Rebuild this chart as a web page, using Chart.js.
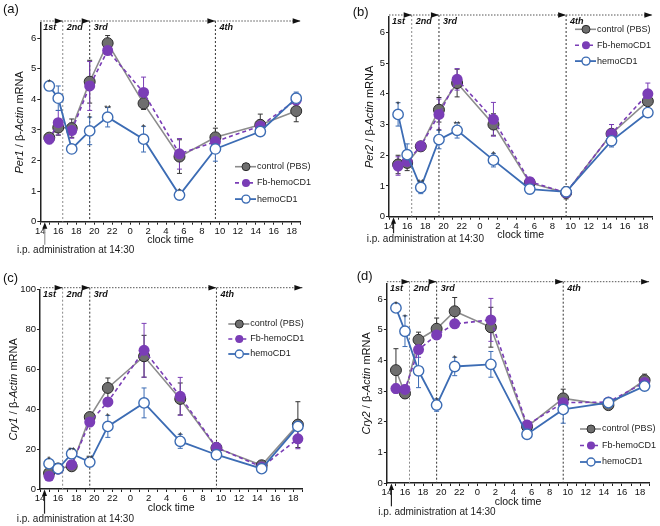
<!DOCTYPE html>
<html><head><meta charset="utf-8">
<script src="https://cdn.jsdelivr.net/npm/chart.js@4.4.0/dist/chart.umd.min.js"></script>
<style>
html,body{margin:0;padding:0;background:#fff;}
body{width:660px;height:526px;position:relative;overflow:hidden;}
.p{position:absolute;width:330px;height:263px;}
canvas{display:block;}
</style></head>
<body>
<div class="p" style="left:0;top:0"><canvas id="pa" width="330" height="263"></canvas></div>
<div class="p" style="left:330px;top:0"><canvas id="pb" width="330" height="263"></canvas></div>
<div class="p" style="left:0;top:263px"><canvas id="pc" width="330" height="263"></canvas></div>
<div class="p" style="left:330px;top:263px"><canvas id="pd" width="330" height="263"></canvas></div>
<script>
// ---------- DATA ----------
// sampling times, hours after 14:00 on day 1 (15:00,16:00,17:30,19:30,21:30,1:30,5:30,9:30,14:30,18:30)
const sampleHours = [1, 2, 3.5, 5.5, 7.5, 11.5, 15.5, 19.5, 24.5, 28.5];
const seriesNames = ['control (PBS)', 'Fb-hemoCD1', 'hemoCD1'];
const phaseLabels = ['1st', '2nd', '3rd', '4th'];
const phaseBoundaryHours = [2.5, 5.5, 19.5];
const injectionHour = 0.5;

// (a) Per1
const per1Control    = [2.75, 3.08, 3.06, 4.58, 5.84, 3.87, 2.13, 2.76, 3.17, 3.62];
const per1ControlErr = [0.10, 0.25, 0.30, 0.70, 0.25, 0.20, 0.55, 0.30, 0.35, 0.35];
const per1Fb         = [2.70, 3.24, 2.98, 4.44, 5.60, 4.23, 2.22, 2.62, 3.13, 3.98];
const per1FbErr      = [0.15, 0.40, 0.25, 0.80, 0.10, 0.50, 0.50, 0.25, 0.20, 0.20];
const per1Hemo       = [4.44, 4.04, 2.38, 2.97, 3.42, 2.70, 0.87, 2.38, 2.95, 4.04];
const per1HemoErr    = [0.10, 0.40, 0.05, 0.45, 0.32, 0.42, 0.05, 0.40, 0.05, 0.20];
const per1Sig        = ['*', '', '', '*', '**', '*', '*', '', '', ''];

// (b) Per2
const per2Control    = [1.70, 1.75, 2.29, 3.48, 4.35, 3.00, 1.10, 0.78, 2.70, 3.76];
const per2ControlErr = [0.30, 0.25, 0.10, 0.40, 0.45, 0.35, 0.10, 0.20, 0.30, 0.10];
const per2Fb         = [1.65, 1.80, 2.30, 3.33, 4.47, 3.17, 1.14, 0.78, 2.70, 4.00];
const per2FbErr      = [0.30, 0.20, 0.10, 0.50, 0.35, 0.55, 0.10, 0.10, 0.30, 0.35];
const per2Hemo       = [3.33, 2.02, 0.95, 2.51, 2.81, 1.84, 0.90, 0.81, 2.47, 3.39];
const per2HemoErr    = [0.38, 0.35, 0.20, 0.30, 0.25, 0.22, 0.15, 0.10, 0.20, 0.10];
const per2Sig        = ['*', '', '**', '*', '**', '*', '', '', '', ''];

// (c) Cry1
const cry1Control    = [8.0, 10.3, 11.4, 36.1, 50.7, 66.6, 45.2, 20.6, 11.9, 32.3];
const cry1ControlErr = [1.5, 1.0, 1.5, 2.0, 5.0, 10.5, 8.0, 2.5, 1.0, 11.5];
const cry1Fb         = [6.4, 10.0, 12.2, 33.6, 43.7, 69.6, 46.5, 20.9, 11.0, 25.2];
const cry1FbErr      = [2.0, 1.0, 2.0, 2.0, 2.0, 13.5, 9.5, 1.5, 1.0, 5.0];
const cry1Hemo       = [12.7, 10.2, 17.7, 13.5, 31.4, 43.2, 23.9, 17.2, 10.2, 31.4];
const cry1HemoErr    = [2.0, 1.5, 1.5, 1.5, 5.5, 7.5, 3.5, 1.5, 1.0, 2.0];
const cry1Sig        = ['*', '', '**', '**', '*', '', '*', '', '', ''];

// (d) Cry2
const cry2Control    = [3.68, 2.92, 4.67, 5.03, 5.60, 5.08, 1.84, 2.76, 2.54, 3.35];
const cry2ControlErr = [0.70, 0.15, 0.25, 0.35, 0.45, 0.65, 0.15, 0.30, 0.10, 0.20];
const cry2Fb         = [3.08, 3.05, 4.35, 4.83, 5.19, 5.32, 1.89, 2.62, 2.64, 3.28];
const cry2FbErr      = [0.15, 0.15, 0.25, 0.15, 0.10, 0.70, 0.15, 0.10, 0.10, 0.10];
const cry2Hemo       = [5.71, 4.95, 3.66, 2.54, 3.80, 3.87, 1.59, 2.40, 2.62, 3.16];
const cry2HemoErr    = [0.10, 0.50, 0.55, 0.20, 0.30, 0.42, 0.05, 0.45, 0.10, 0.10];
const cry2Sig        = ['*', '*', '', '*', '*', '', '', '', '', ''];

// ---------- STYLE ----------
const FONT = '"Liberation Sans", Arial, Helvetica, sans-serif';
const STY = [
  {line:'#8c8c8c', fill:'#6e6e6e', edge:'#2a2a2a', err:'#333333', dash:[], bw:1.6, r:5.5, pbw:1},
  {line:'#7a3db6', fill:'#7a3db6', edge:'#7a3db6', err:'#7a3db6', dash:[4,3], bw:1.6, r:5.5, pbw:0},
  {line:'#3c6cb4', fill:'#ffffff', edge:'#3c6cb4', err:'#3c6cb4', dash:[], bw:1.8, r:5.2, pbw:1.4}
];

const deco = {
  id: 'deco',
  beforeDatasetsDraw(chart, args, o) {
    const ctx = chart.ctx, xs = chart.scales.x, ys = chart.scales.y, ca = chart.chartArea;
    ctx.save();
    const topY = ca.top - 2;
    phaseBoundaryHours.forEach((h, i) => {
      const x = xs.getPixelForValue(h);
      ctx.strokeStyle = i === 0 ? '#8a8a8a' : '#333';
      ctx.lineWidth = 1; ctx.setLineDash([2, 2]);
      ctx.beginPath(); ctx.moveTo(x, topY); ctx.lineTo(x, ca.bottom); ctx.stroke();
    });
    ctx.setLineDash([]);
    chart.data.datasets.forEach((d, di) => {
      const meta = chart.getDatasetMeta(di);
      ctx.strokeStyle = STY[di].err; ctx.lineWidth = 1;
      d.data.forEach((p, i) => {
        const e = d.err[i]; if (!e) return;
        const x = meta.data[i].x;
        const y1 = ys.getPixelForValue(p.y + e), y2 = ys.getPixelForValue(p.y - e);
        ctx.beginPath();
        ctx.moveTo(x, y1); ctx.lineTo(x, y2);
        ctx.moveTo(x - 2.5, y1); ctx.lineTo(x + 2.5, y1);
        ctx.moveTo(x - 2.5, y2); ctx.lineTo(x + 2.5, y2);
        ctx.stroke();
      });
    });
    ctx.restore();
  },
  afterDatasetsDraw(chart, args, o) {
    const ctx = chart.ctx, ys = chart.scales.y;
    const di = 2, d = chart.data.datasets[di], meta = chart.getDatasetMeta(di);
    ctx.save();
    ctx.fillStyle = '#333'; ctx.font = '9px ' + FONT; ctx.textAlign = 'center'; ctx.textBaseline = 'alphabetic';
    o.sig.forEach((s, i) => {
      if (!s) return;
      const pt = meta.data[i];
      const top = Math.min(ys.getPixelForValue(d.data[i].y + d.err[i]), pt.y - STY[di].r);
      ctx.fillText(s, pt.x, top + 4);
    });
    ctx.restore();
  },
  afterDraw(chart, args, o) {
    const ctx = chart.ctx, xs = chart.scales.x, ca = chart.chartArea;
    ctx.save();
    const ay = ca.top - 2;
    ctx.strokeStyle = '#555'; ctx.lineWidth = 1; ctx.setLineDash([1.5, 1.5]);
    ctx.beginPath(); ctx.moveTo(ca.left, ay); ctx.lineTo(ca.right, ay); ctx.stroke();
    ctx.setLineDash([]);
    ctx.fillStyle = '#111';
    const tips = phaseBoundaryHours.map(h => xs.getPixelForValue(h)).concat([ca.right]);
    tips.forEach(t => {
      ctx.beginPath(); ctx.moveTo(t, ay); ctx.lineTo(t - 8, ay - 2.8); ctx.lineTo(t - 8, ay + 2.8); ctx.closePath(); ctx.fill();
    });
    ctx.font = 'italic bold 9px ' + FONT; ctx.textBaseline = 'middle'; ctx.textAlign = 'left';
    const starts = [ca.left].concat(phaseBoundaryHours.map(h => xs.getPixelForValue(h)));
    phaseLabels.forEach((l, i) => ctx.fillText(l, starts[i] + (i === 0 ? 3 : 4), ca.top + 5));

    ctx.font = '13px ' + FONT; ctx.fillStyle = '#111'; ctx.textBaseline = 'middle';
    ctx.fillText(o.panel, o.panelX, o.panelY);

    ctx.save();
    ctx.translate(ca.left - o.yTitleOff, (ca.top + ca.bottom) / 2);
    ctx.rotate(-Math.PI / 2);
    const parts = [[o.gene, true], [' / \u03B2-', false], ['Actin', true], [' mRNA', false]];
    const fnt = it => (it ? 'italic ' : '') + '11px ' + FONT;
    let tw = 0; parts.forEach(p => { ctx.font = fnt(p[1]); tw += ctx.measureText(p[0]).width; });
    let cx = -tw / 2;
    ctx.textAlign = 'left'; ctx.textBaseline = 'middle';
    parts.forEach(p => { ctx.font = fnt(p[1]); ctx.fillText(p[0], cx, 0); cx += ctx.measureText(p[0]).width; });
    ctx.restore();

    chart.data.datasets.forEach((d, i) => {
      const y = o.legY + i * o.legDy, s = STY[i];
      ctx.strokeStyle = s.line; ctx.lineWidth = s.bw; ctx.setLineDash(s.dash);
      ctx.beginPath(); ctx.moveTo(o.legX, y); ctx.lineTo(o.legX + 21, y); ctx.stroke();
      ctx.setLineDash([]);
      ctx.beginPath(); ctx.arc(o.legX + 11, y, 4, 0, Math.PI * 2);
      ctx.fillStyle = s.fill; ctx.fill();
      if (s.pbw) { ctx.lineWidth = s.pbw; ctx.strokeStyle = s.edge; ctx.stroke(); }
      ctx.fillStyle = '#222'; ctx.font = '9px ' + FONT; ctx.textAlign = 'left'; ctx.textBaseline = 'middle';
      ctx.fillText(d.label, o.legX + 22, y);
    });

    const ix = xs.getPixelForValue(injectionHour);
    ctx.strokeStyle = o.ipColor; ctx.lineWidth = 1.2;
    ctx.beginPath(); ctx.moveTo(ix, o.ipY - 6); ctx.lineTo(ix, ca.bottom + 5); ctx.stroke();
    ctx.fillStyle = '#111';
    ctx.beginPath(); ctx.moveTo(ix, ca.bottom + 0.5); ctx.lineTo(ix - 2.5, ca.bottom + 7); ctx.lineTo(ix + 2.5, ca.bottom + 7); ctx.closePath(); ctx.fill();
    ctx.font = '10px ' + FONT; ctx.textAlign = 'left'; ctx.textBaseline = 'middle'; ctx.fillStyle = '#222';
    ctx.fillText('i.p. administration at 14:30', o.ipX, o.ipY);
    ctx.restore();
  }
};

function makePanel(id, vals, cfg) {
  const datasets = vals.map((v, i) => ({
    label: seriesNames[i],
    data: sampleHours.map((h, k) => ({x: h, y: v[0][k]})),
    err: v[1],
    borderColor: STY[i].line, borderWidth: STY[i].bw, borderDash: STY[i].dash,
    pointRadius: STY[i].r, pointBackgroundColor: STY[i].fill, pointBorderColor: STY[i].edge,
    pointBorderWidth: STY[i].pbw, tension: 0, fill: false, order: 3 - i, clip: false
  }));
  const tickFont = {size: 9.5, family: FONT};
  new Chart(document.getElementById(id), {
    type: 'line',
    data: {datasets},
    options: {
      responsive: false, animation: false, devicePixelRatio: 1,
      layout: {padding: cfg.pad},
      plugins: {legend: {display: false}, tooltip: {enabled: false}, deco: cfg},
      scales: {
        x: {
          type: 'linear', min: 0, max: 29,
          afterFit: s => { s.height = 25; },
          ticks: {stepSize: 1, autoSkip: false, maxRotation: 0, padding: 1, font: tickFont, color: '#111',
                  callback: v => (v % 2 === 0 ? String((14 + v) % 24) : '')},
          grid: {drawOnChartArea: false, tickLength: 3, color: '#222', lineWidth: 1},
          border: {color: '#222', width: 1.5},
          title: {display: true, text: 'clock time', font: {size: 10.5, family: FONT}, color: '#111', padding: 0}
        },
        y: {
          min: 0, max: cfg.yMax,
          afterFit: s => { s.width = 22; },
          ticks: {stepSize: cfg.yStep, includeBounds: false, padding: 1, font: tickFont, color: '#111'},
          grid: {drawOnChartArea: false, tickLength: 3, color: '#222', lineWidth: 1},
          border: {color: '#222', width: 1.5}
        }
      }
    },
    plugins: [deco]
  });
}

makePanel('pa', [[per1Control, per1ControlErr], [per1Fb, per1FbErr], [per1Hemo, per1HemoErr]], {
  sig: per1Sig, gene: 'Per1', panel: '(a)', panelX: 3, panelY: 9, yMax: 6.5, yStep: 1,
  pad: {left: 18.3, right: 29.3, top: 23, bottom: 16.3}, yTitleOff: 20,
  legX: 235, legY: 166.7, legDy: 16.2, ipX: 17, ipY: 250.7, ipColor: '#999'
});
makePanel('pb', [[per2Control, per2ControlErr], [per2Fb, per2FbErr], [per2Hemo, per2HemoErr]], {
  sig: per2Sig, gene: 'Per2', panel: '(b)', panelX: 22.7, panelY: 12, yMax: 6.5, yStep: 1,
  pad: {left: 37, right: 7.6, top: 17, bottom: 21.3}, yTitleOff: 19,
  legX: 245, legY: 29.3, legDy: 15.9, ipX: 36.7, ipY: 239.3, ipColor: '#222'
});
makePanel('pc', [[cry1Control, cry1ControlErr], [cry1Fb, cry1FbErr], [cry1Hemo, cry1HemoErr]], {
  sig: cry1Sig, gene: 'Cry1', panel: '(c)', panelX: 3, panelY: 15, yMax: 100, yStep: 20,
  pad: {left: 18, right: 27.6, top: 26.7, bottom: 12}, yTitleOff: 26,
  legX: 228.3, legY: 61, legDy: 15, ipX: 16.7, ipY: 256.7, ipColor: '#222'
});
makePanel('pd', [[cry2Control, cry2ControlErr], [cry2Fb, cry2FbErr], [cry2Hemo, cry2HemoErr]], {
  sig: cry2Sig, gene: 'Cry2', panel: '(d)', panelX: 26.7, panelY: 13, yMax: 6.5, yStep: 1,
  pad: {left: 34.9, right: 10.9, top: 20.7, bottom: 18}, yTitleOff: 20,
  legX: 250, legY: 166, legDy: 16.5, ipX: 48.3, ipY: 249.3, ipColor: '#222'
});
</script>
</body></html>
